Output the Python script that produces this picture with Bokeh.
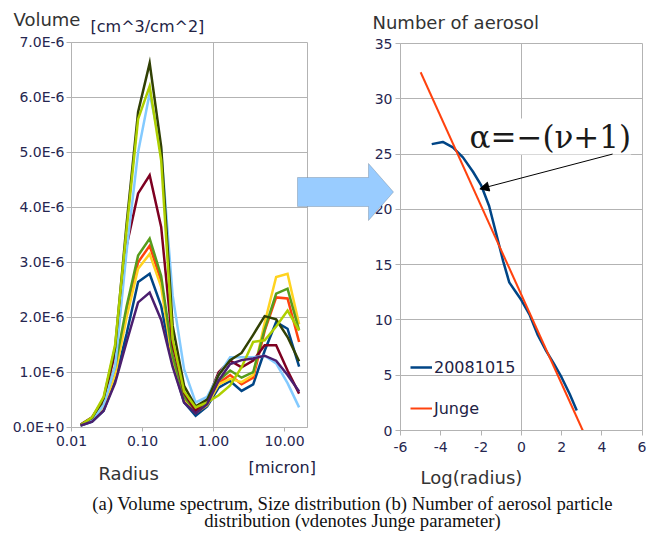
import math
from bokeh.plotting import figure
from bokeh.models import (FixedTicker, CustomJSTickFormatter, Label, PolyAnnotation,
                          Arrow, NormalHead, Legend, LegendItem, Range1d, LogScale,
                          LinearAxis, LogAxis, Grid)
from bokeh.embed import file_html
from bokeh.resources import INLINE

# ---------------- data: (a) volume spectrum ----------------
radius = [0.0134, 0.0195, 0.0283, 0.0411, 0.0597, 0.0866, 0.126, 0.183, 0.265, 0.385,
          0.559, 0.812, 1.18, 1.71, 2.48, 3.61, 5.24, 7.60, 11.0, 16.0]

# volumes in units of 1e-6 cm^3/cm^2
vol_blue = [0.03, 0.10, 0.30, 0.85, 1.70, 2.64, 2.79, 2.20, 1.15, 0.45, 0.21, 0.38, 0.72, 0.84, 0.66, 0.78, 1.39, 1.91, 1.79, 1.10]
vol_red = [0.04, 0.13, 0.40, 1.00, 2.10, 3.00, 3.30, 2.65, 1.25, 0.50, 0.27, 0.42, 0.80, 0.95, 0.78, 0.90, 1.75, 2.36, 2.34, 1.55]
vol_yellow = [0.04, 0.12, 0.38, 0.95, 2.00, 2.88, 3.15, 2.55, 1.20, 0.48, 0.26, 0.40, 0.78, 0.88, 0.82, 0.95, 1.90, 2.73, 2.79, 1.87]
vol_green = [0.04, 0.15, 0.45, 1.10, 2.20, 3.12, 3.43, 2.75, 1.30, 0.55, 0.30, 0.45, 0.85, 1.03, 0.90, 1.00, 1.78, 2.43, 2.52, 1.76]
vol_maroon = [0.05, 0.18, 0.50, 1.35, 3.30, 4.25, 4.58, 3.64, 1.50, 0.62, 0.30, 0.50, 1.00, 1.21, 1.09, 1.21, 1.49, 1.49, 1.03, 0.61]
vol_lightblue = [0.04, 0.12, 0.40, 1.10, 3.20, 5.00, 6.07, 5.05, 2.40, 1.05, 0.45, 0.55, 0.95, 1.27, 1.27, 1.27, 1.30, 1.16, 0.80, 0.36]
vol_olive = [0.04, 0.17, 0.52, 1.45, 3.70, 5.73, 6.62, 5.10, 1.85, 0.75, 0.38, 0.50, 0.95, 1.22, 1.35, 1.68, 2.02, 1.96, 1.64, 1.20]
vol_yellowgreen = [0.04, 0.18, 0.55, 1.50, 3.60, 5.60, 6.20, 4.85, 1.60, 0.65, 0.36, 0.45, 0.58, 0.76, 1.09, 1.55, 1.58, 1.83, 2.12, 1.76]
vol_purple = [0.03, 0.10, 0.30, 0.80, 1.55, 2.27, 2.45, 1.95, 1.10, 0.45, 0.25, 0.42, 0.85, 1.15, 1.22, 1.25, 1.30, 1.21, 0.95, 0.65]

series_values = [vol_blue, vol_red, vol_yellow, vol_green, vol_maroon,
                 vol_lightblue, vol_olive, vol_yellowgreen, vol_purple]
series_colors = ["#004586", "#ff420e", "#ffd320", "#579d1c", "#7e0021",
                 "#83caff", "#314004", "#aecf00", "#4b1f6f"]

left_x_ticks = [0.01, 0.1, 1, 10]
left_y_ticks = [0, 1e-6, 2e-6, 3e-6, 4e-6, 5e-6, 6e-6, 7e-6]

# ---------------- data: (b) number of aerosol ----------------
obs_logr = [-4.45, -3.9, -3.4, -2.9, -2.4, -2.0, -1.6, -1.25, -0.9, -0.6, -0.3, 0.0,
            0.4, 0.8, 1.2, 1.6, 2.0, 2.4, 2.75]
obs_n = [25.9, 26.1, 25.6, 24.7, 23.4, 22.2, 20.3, 17.8, 15.3, 13.4, 12.6, 11.8,
         10.5, 8.7, 7.3, 6.1, 4.8, 3.3, 1.8]
junge_logr = [-5.0, 3.05]
junge_n = [32.4, 0.0]

right_x_ticks = [-6, -4, -2, 0, 2, 4, 6]
right_y_ticks = [0, 5, 10, 15, 20, 25, 30, 35]

# ---------------- page geometry (pixels) ----------------
W, H = 646, 537
L_X0, L_X1 = 71.0, 307.0      # left panel: 0.01 .. 21
L_Y0, L_Y1 = 426.7, 41.7      # left panel: 0 .. 7e-6
R_X0, R_X1 = 400.0, 641.7     # right panel: -6 .. 6
R_Y0, R_Y1 = 430.0, 43.0      # right panel: 0 .. 35
LXMAX = 21.0

def span(v0, p0, v1, p1, lo, hi):
    k = (v1 - v0) / (p1 - p0)
    return v0 + k * (lo - p0), v0 + k * (hi - p0)

lxa, lxb = span(math.log10(0.01), L_X0, math.log10(LXMAX), L_X1, 0, W)
lya, lyb = span(0.0, L_Y0, 7e-6, L_Y1, H, 0)
rxa, rxb = span(-6.0, R_X0, 6.0, R_X1, 0, W)
rya, ryb = span(0.0, R_Y0, 35.0, R_Y1, H, 0)

GRID = "#b3b3b3"
TICKC = "#262650"
FONT = "DejaVu Sans"

p = figure(width=W, height=H, x_range=Range1d(0, W), y_range=Range1d(H, 0),
           x_axis_type=None, y_axis_type=None, output_backend="svg",
           toolbar_location=None, min_border=0)
p.outline_line_color = None
p.background_fill_color = "white"
p.border_fill_color = "white"
p.extra_x_ranges = {"lx": Range1d(10 ** lxa, 10 ** lxb), "rx": Range1d(rxa, rxb)}
p.extra_y_ranges = {"ly": Range1d(lya, lyb), "ry": Range1d(rya, ryb)}
p.extra_x_scales = {"lx": LogScale()}

HAS_CROSS = "cross_bounds" in Grid.properties()

def add_grid(dim, ticks, xr, yr, bounds, cross):
    if HAS_CROSS:
        p.add_layout(Grid(dimension=dim, ticker=FixedTicker(ticks=ticks), x_range_name=xr,
                          y_range_name=yr, bounds=bounds, cross_bounds=cross,
                          grid_line_color=GRID, grid_line_width=1))
    else:
        if dim == 0:
            p.segment(x0=ticks, x1=ticks, y0=[cross[0]] * len(ticks), y1=[cross[1]] * len(ticks),
                      x_range_name=xr, y_range_name=yr, line_color=GRID, line_width=1)
        else:
            p.segment(y0=ticks, y1=ticks, x0=[cross[0]] * len(ticks), x1=[cross[1]] * len(ticks),
                      x_range_name=xr, y_range_name=yr, line_color=GRID, line_width=1)

def style_axis(ax, tick_out, standoff):
    ax.axis_line_color = GRID
    ax.major_tick_line_color = GRID
    ax.minor_tick_line_color = None
    ax.major_tick_in = 0
    ax.major_tick_out = tick_out
    ax.major_label_standoff = standoff
    ax.major_label_text_font = FONT
    ax.major_label_text_font_size = "14px"
    ax.major_label_text_color = TICKC

# ----- left panel -----
add_grid(1, left_y_ticks, "lx", "ly", (0, 7e-6), (0.01, LXMAX))
add_grid(0, [0.01, 1, LXMAX], "lx", "ly", (0.01, LXMAX), (0, 7e-6))

for vals, col in zip(series_values, series_colors):
    p.line(radius, [v * 1e-6 for v in vals], x_range_name="lx", y_range_name="ly",
           line_color=col, line_width=2.5, line_join="miter")

ay = LinearAxis(x_range_name="lx", y_range_name="ly", fixed_location=0.01, bounds=(0, 7e-6),
                ticker=FixedTicker(ticks=left_y_ticks, minor_ticks=[]),
                formatter=CustomJSTickFormatter(code="return tick.toExponential(1).toUpperCase();"))
style_axis(ay, 5, 2)
p.add_layout(ay, "left")
ax = LogAxis(x_range_name="lx", y_range_name="ly", fixed_location=0, bounds=(0.01, LXMAX),
             ticker=FixedTicker(ticks=left_x_ticks, minor_ticks=[]),
             formatter=CustomJSTickFormatter(code="return tick.toFixed(2);"))
style_axis(ax, 4, 5)
p.add_layout(ax, "below")

# ----- right panel -----
add_grid(1, right_y_ticks, "rx", "ry", (0, 35), (-6, 6))
add_grid(0, [-6, 0, 6], "rx", "ry", (-6, 6), (0, 35))

r_obs = p.line(obs_logr, obs_n, x_range_name="rx", y_range_name="ry",
               line_color="#004586", line_width=2.5)
r_junge = p.line(junge_logr, junge_n, x_range_name="rx", y_range_name="ry",
                 line_color="#ff420e", line_width=2)

plain = CustomJSTickFormatter(code="return String(tick);")
ry_ax = LinearAxis(x_range_name="rx", y_range_name="ry", fixed_location=-6, bounds=(0, 35),
                   ticker=FixedTicker(ticks=right_y_ticks, minor_ticks=[]), formatter=plain)
style_axis(ry_ax, 5, 3)
p.add_layout(ry_ax, "left")
rx_ax = LinearAxis(x_range_name="rx", y_range_name="ry", fixed_location=0, bounds=(-6, 6),
                   ticker=FixedTicker(ticks=right_x_ticks, minor_ticks=[]),
                   formatter=CustomJSTickFormatter(code="return String(tick);"))
style_axis(rx_ax, 5, 6)
p.add_layout(rx_ax, "below")

legend = Legend(items=[LegendItem(label="20081015", renderers=[r_obs]),
                       LegendItem(label="Junge", renderers=[r_junge])],
                location=(410, H - 418), padding=0, margin=0, spacing=21,
                glyph_width=22, glyph_height=20, label_height=20, label_standoff=2,
                label_text_font=FONT, label_text_font_size="16px", label_text_color="#222244",
                border_line_color=None, background_fill_alpha=0)
p.add_layout(legend)

p.add_layout(Label(x=469, y=136, text="α=−(ν+1)", text_font="DejaVu Serif",
                   text_font_size="31px", text_color="#1a1a1a", text_baseline="middle",
                   background_fill_color="white"))
p.add_layout(Arrow(x_start=4.53, y_start=25.0, x_end=-2.06, y_end=21.85,
                   x_range_name="rx", y_range_name="ry",
                   line_color="black", line_width=1,
                   end=NormalHead(size=9, fill_color="black", line_color="black")))

# ----- texts -----
def lab(text, x, y, size="18px", color="#333333", font=FONT, align="left"):
    p.add_layout(Label(x=x, y=y, text=text, text_font=font, text_font_size=size,
                       text_color=color, text_baseline="middle", text_align=align))

lab("Volume", 13, 19)
lab("[cm^3/cm^2]", 90, 26, size="16px", color="#222244")
lab("Radius", 98, 473)
lab("[micron]", 248, 467, size="16px", color="#222244")
lab("Number of aerosol", 372, 22)
lab("Log(radius)", 420, 477)
lab("(a) Volume spectrum, Size distribution (b) Number of aerosol particle",
    352, 503, size="18.7px", color="#111111", font="Liberation Serif", align="center")
lab("distribution (νdenotes Junge parameter)",
    352, 520, size="18.7px", color="#111111", font="Liberation Serif", align="center")

# ----- block arrow between the panels -----
arrow_x = [297, 368, 368, 393, 368, 368, 297]
arrow_y = [177, 177, 163, 191.5, 220, 206, 206]
p.add_layout(PolyAnnotation(xs=arrow_x, ys=arrow_y, fill_color="#99ccff", fill_alpha=1.0,
                            line_color="#4f5f70", line_width=1))

open("out.html", "w").write(file_html(p, INLINE))
